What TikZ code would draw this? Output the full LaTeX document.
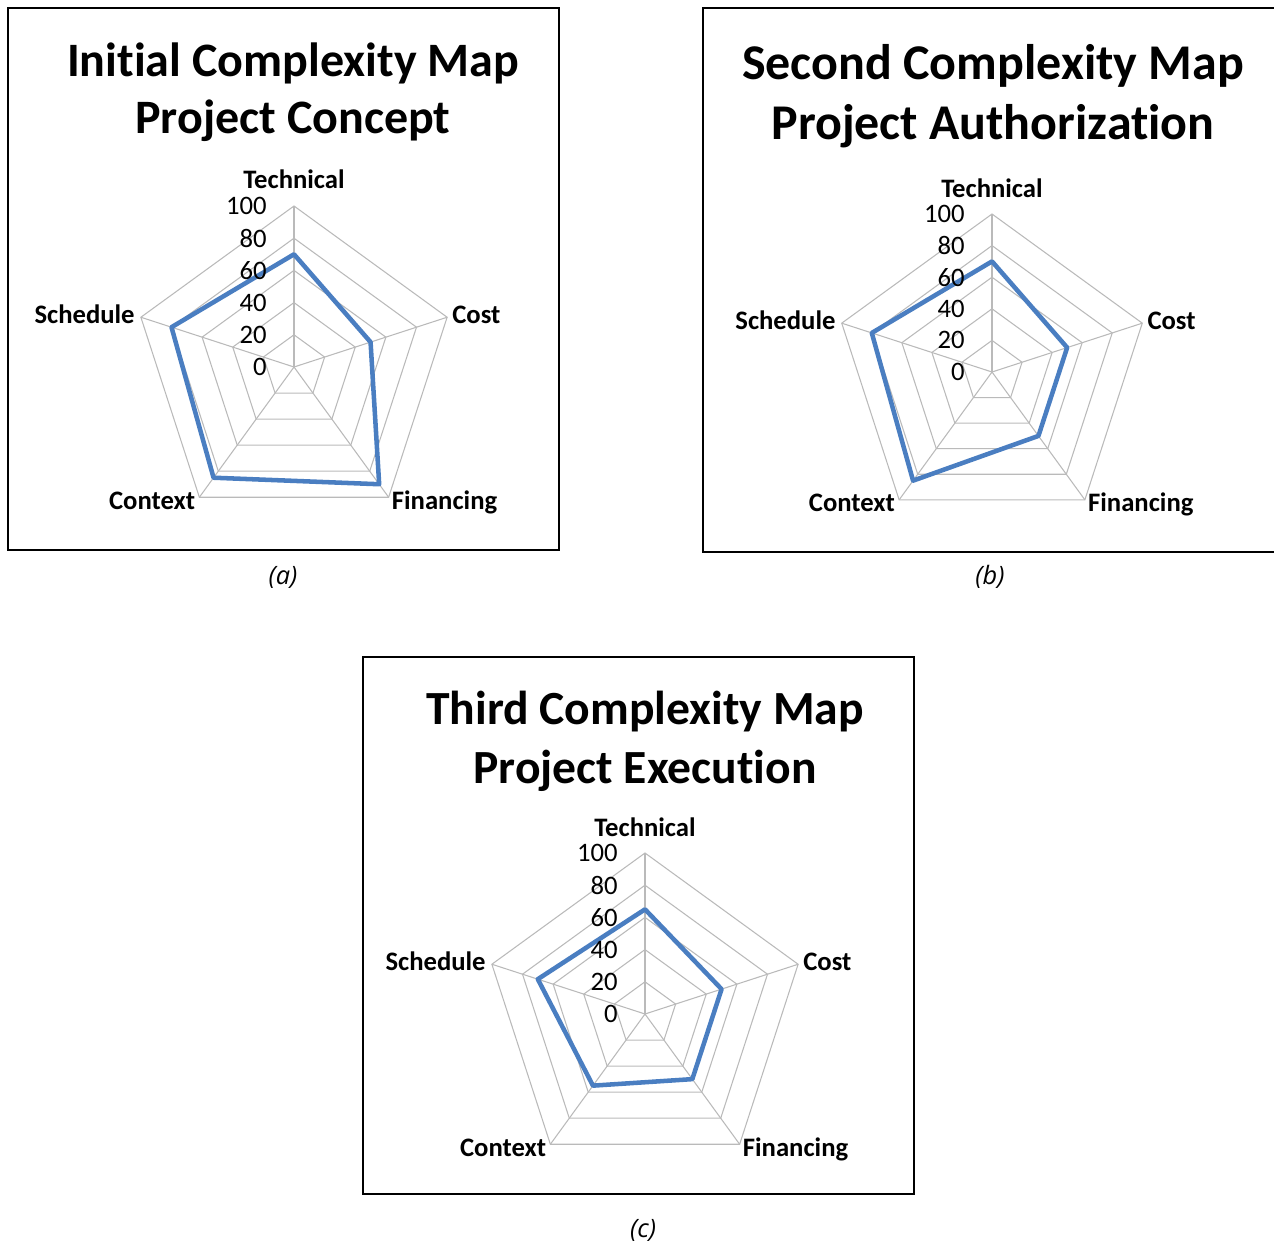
\documentclass[tikz,border=0pt]{standalone}
\usepackage{fontspec}
\setmainfont{Carlito}[Ligatures=NoCommon]
\newfontfamily\capfont{Open Sans}
\definecolor{seriesblue}{RGB}{74,126,193}
\newcommand{\radarchart}[9]{%
  \begin{scope}[shift={(#2,#3)}]
    \foreach \k in {1,...,5}{
      \draw[grid] (-90:\k*#4/5) -- (-18:\k*#4/5) -- (54:\k*#4/5) -- (126:\k*#4/5) -- (198:\k*#4/5) -- cycle;
    }
    \foreach \a in {-90,-18,54,126,198}{ \draw[grid] (0,0) -- (\a:#4); }
    \draw[series] (-90:#5*#4/100) -- (-18:#6*#4/100) -- (54:#7*#4/100) -- (126:#8*#4/100) -- (198:#9*#4/100) -- cycle;
    \foreach \v [count=\k from 0] in {0,20,40,60,80,100}{
      \node[ticklabel] (#1-t\v) at (-27,-\k*#4/5) {\v};
    }
    \node[axislabel, anchor=base] (#1-tech) at (0,-#4-17) {Technical};
    \node[axislabel, anchor=base west] (#1-cost) at (0.951*#4+5,-0.309*#4+6) {Cost};
    \node[axislabel, anchor=base east] (#1-sched) at (-0.951*#4-6,-0.309*#4+6) {Schedule};
    \node[axislabel, anchor=base east] (#1-ctx) at (-0.588*#4-4,0.809*#4+12) {Context};
    \node[axislabel, anchor=base west] (#1-fin) at (0.588*#4+3,0.809*#4+12) {Financing};
  \end{scope}}
\begin{document}
\begin{tikzpicture}[x=0.75pt,y=-0.75pt,
  grid/.style={draw=black!27, line width=0.8pt},
  series/.style={draw=seriesblue, line width=3.4pt, line join=round},
  frame/.style={draw=black, line width=1pt},
  axislabel/.style={font=\bfseries\fontsize{20}{22}\selectfont, inner sep=0pt},
  ticklabel/.style={font=\fontsize{20}{22}\selectfont, inner sep=0pt, anchor=east},
  title/.style={inner sep=0pt, anchor=base},
  titlea/.style={title, font=\bfseries\fontsize{36}{42}\selectfont},
  titleb/.style={title, font=\bfseries\fontsize{37.5}{42}\selectfont},
  titlec/.style={title, font=\bfseries\fontsize{35.7}{42}\selectfont},
  caption/.style={font=\capfont\itshape\fontsize{19}{22}\selectfont, inner sep=0pt}]
\useasboundingbox (0,0) rectangle (1274,1245);

% frames
\draw[frame] (8,8) rectangle (559,550);
\draw[frame] (1276,8) -- (703,8) -- (703,552) -- (1276,552);
\draw[frame] (363,657) rectangle (914,1194);

% titles
\node[titlea] (a-title1) at (293,77) {Initial Complexity Map};
\node[titlea] (a-title2) at (293,134) {Project Concept};
\node[titleb] (b-title1) at (993,80) {Second Complexity Map};
\node[titleb] (b-title2) at (993,140) {Project Authorization};
\node[titlec] (c-title1) at (645,724) {Third Complexity Map};
\node[titlec] (c-title2) at (645,783) {Project Execution};

% charts
\radarchart{a}{294}{367}{161}{70}{50}{90}{85}{80}
\radarchart{b}{992}{372}{158}{70}{50}{50}{85}{80}
\radarchart{c}{645}{1014}{161}{65}{50}{50}{55}{70}

% captions
\node[caption] (cap-a) at (283,577) {(a)};
\node[caption] (cap-b) at (990,577) {(b)};
\node[caption] (cap-c) at (643,1230) {(c)};
\end{tikzpicture}
\end{document}
